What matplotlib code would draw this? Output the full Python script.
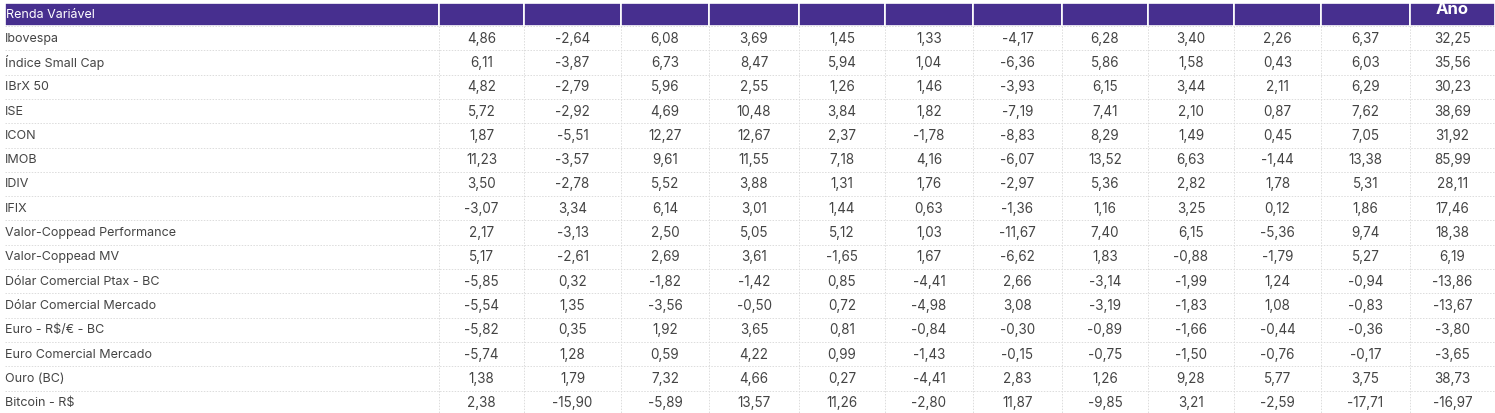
import matplotlib.pyplot as plt
from matplotlib.patches import Rectangle

plt.rcParams['font.family'] = ['Inter', 'DejaVu Sans']

header_title = "Renda Variável"
col_headers = ["", "", "", "", "", "", "", "", "", "", "", "Ano"]

names = ["Ibovespa", "Índice Small Cap", "IBrX 50", "ISE", "ICON", "IMOB", "IDIV",
         "IFIX", "Valor-Coppead Performance", "Valor-Coppead MV",
         "Dólar Comercial Ptax - BC", "Dólar Comercial Mercado", "Euro - R$/€ - BC",
         "Euro Comercial Mercado", "Ouro (BC)", "Bitcoin - R$"]

ibovespa = [4.86, -2.64, 6.08, 3.69, 1.45, 1.33, -4.17, 6.28, 3.40, 2.26, 6.37, 32.25]
small_cap = [6.11, -3.87, 6.73, 8.47, 5.94, 1.04, -6.36, 5.86, 1.58, 0.43, 6.03, 35.56]
ibrx50 = [4.82, -2.79, 5.96, 2.55, 1.26, 1.46, -3.93, 6.15, 3.44, 2.11, 6.29, 30.23]
ise = [5.72, -2.92, 4.69, 10.48, 3.84, 1.82, -7.19, 7.41, 2.10, 0.87, 7.62, 38.69]
icon = [1.87, -5.51, 12.27, 12.67, 2.37, -1.78, -8.83, 8.29, 1.49, 0.45, 7.05, 31.92]
imob = [11.23, -3.57, 9.61, 11.55, 7.18, 4.16, -6.07, 13.52, 6.63, -1.44, 13.38, 85.99]
idiv = [3.50, -2.78, 5.52, 3.88, 1.31, 1.76, -2.97, 5.36, 2.82, 1.78, 5.31, 28.11]
ifix = [-3.07, 3.34, 6.14, 3.01, 1.44, 0.63, -1.36, 1.16, 3.25, 0.12, 1.86, 17.46]
coppead_perf = [2.17, -3.13, 2.50, 5.05, 5.12, 1.03, -11.67, 7.40, 6.15, -5.36, 9.74, 18.38]
coppead_mv = [5.17, -2.61, 2.69, 3.61, -1.65, 1.67, -6.62, 1.83, -0.88, -1.79, 5.27, 6.19]
dolar_ptax = [-5.85, 0.32, -1.82, -1.42, 0.85, -4.41, 2.66, -3.14, -1.99, 1.24, -0.94, -13.86]
dolar_merc = [-5.54, 1.35, -3.56, -0.50, 0.72, -4.98, 3.08, -3.19, -1.83, 1.08, -0.83, -13.67]
euro_bc = [-5.82, 0.35, 1.92, 3.65, 0.81, -0.84, -0.30, -0.89, -1.66, -0.44, -0.36, -3.80]
euro_merc = [-5.74, 1.28, 0.59, 4.22, 0.99, -1.43, -0.15, -0.75, -1.50, -0.76, -0.17, -3.65]
ouro = [1.38, 1.79, 7.32, 4.66, 0.27, -4.41, 2.83, 1.26, 9.28, 5.77, 3.75, 38.73]
bitcoin = [2.38, -15.90, -5.89, 13.57, 11.26, -2.80, 11.87, -9.85, 3.21, -2.59, -17.71, -16.97]

rows = [ibovespa, small_cap, ibrx50, ise, icon, imob, idiv, ifix, coppead_perf,
        coppead_mv, dolar_ptax, dolar_merc, euro_bc, euro_merc, ouro, bitcoin]

purple = "#472f8f"
text_color = "#444444"
grid_color = "#dcdcdc"

W, H = 1495, 413
col_edges = [439, 524, 621, 709, 799, 885, 973, 1062, 1148, 1234, 1321, 1410, 1495]
head_top, head_bot = 3, 26
row_h = 24.3

fig = plt.figure(figsize=(W / 100, H / 100), dpi=100)
ax = fig.add_axes([0, 0, 1, 1])
ax.set_xlim(0, W)
ax.set_ylim(H, 0)
ax.axis('off')

# header band
ax.add_patch(Rectangle((5, head_top), col_edges[0] - 5, head_bot - head_top,
                       facecolor=purple, edgecolor='white', lw=1.2))
for i in range(len(col_edges) - 1):
    x0, x1 = col_edges[i], col_edges[i + 1]
    ax.add_patch(Rectangle((x0, head_top), x1 - x0, head_bot - head_top,
                           facecolor=purple, edgecolor='white', lw=1.2))
    if col_headers[i]:
        ax.text((x0 + x1) / 2, 10, col_headers[i], color='white', fontsize=12,
                fontweight='bold', ha='center', va='center')
ax.text(6, (head_top + head_bot) / 2 + 1, header_title, color='white', fontsize=9,
        ha='left', va='center')

# grid lines
for r in range(len(names) + 1):
    y = head_bot + r * row_h
    ax.plot([5, W], [y, y], color=grid_color, lw=0.7, ls=(0, (1.5, 1.5)))
for x in col_edges[:-1]:
    ax.plot([x, x], [head_bot, H], color=grid_color, lw=0.7, ls=(0, (1.5, 1.5)))

# body
for r, (name, vals) in enumerate(zip(names, rows)):
    yc = head_bot + (r + 0.5) * row_h + 0.5
    ax.text(5, yc, name, color=text_color, fontsize=9, ha='left', va='center')
    for i, v in enumerate(vals):
        xc = (col_edges[i] + col_edges[i + 1]) / 2
        s = f"{v:.2f}".replace('.', ',')
        ax.text(xc, yc, s, color=text_color, fontsize=9.7, ha='center', va='center')

fig.savefig("out.png", dpi=100)
